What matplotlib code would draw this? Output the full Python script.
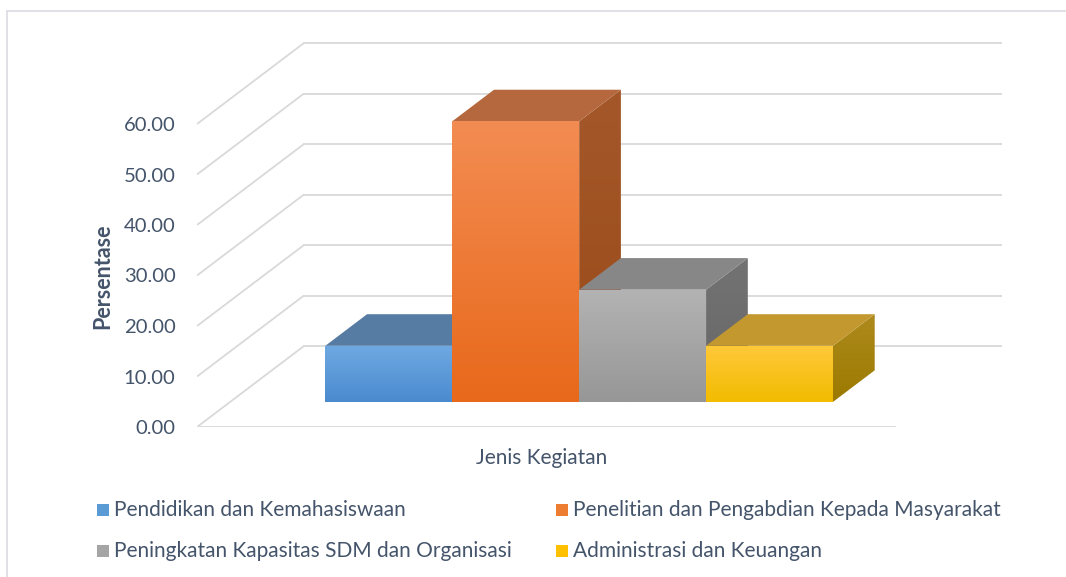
import numpy as np
import matplotlib
matplotlib.use("Agg")
import matplotlib.pyplot as plt
from matplotlib.patches import Polygon, Rectangle
from matplotlib.colors import to_rgb

categories = ["Pendidikan dan Kemahasiswaan",
              "Penelitian dan Pengabdian Kepada Masyarakat",
              "Peningkatan Kapasitas SDM dan Organisasi",
              "Administrasi dan Keuangan"]
values = [11.11, 55.56, 22.22, 11.11]
yticks = [0, 10, 20, 30, 40, 50, 60]
x_title = "Jenis Kegiatan"
y_title = "Persentase"

# face colours: front top, front bottom, top face, side top, side bottom
colors = [
    ("#6fa9e2", "#4a8bd0", "#567ca3", "#4d6f93", "#3f5f80"),
    ("#f38c52", "#e8691b", "#b5683d", "#a4582a", "#9a4a18"),
    ("#b3b3b3", "#979797", "#878787", "#737373", "#666666"),
    ("#ffc83a", "#f2bc00", "#c3992f", "#ad8a1c", "#9c7a00"),
]
legend_marker = ["#5b9bd5", "#ed7d31", "#a5a5a5", "#ffc000"]

text_col = "#44546a"
grid_col = "#d9d9d9"
font = "Lato"

W, H = 1066, 577
fig = plt.figure(figsize=(W / 100, H / 100), dpi=100)

# plot region: front plane from x=197..895 px, value 0 at y=427, 5.05 px per unit
px_x = 698.0
px_y = 5.05
ax = fig.add_axes([197 / W, (H - 427) / H, 805 / W, 385 / H])
ax.patch.set_alpha(0)
for s in ax.spines.values():
    s.set_visible(False)

# depth vector of the floor (oblique projection)
Dx = 107 / px_x
Dy = 81 / px_y

# walls / gridlines
for v in yticks:
    ax.plot([0, Dx], [v, v + Dy], color=grid_col, lw=1.3, zorder=1, solid_capstyle="butt")
    ax.plot([Dx, 1 + Dx], [v + Dy, v + Dy], color=grid_col, lw=1.3, zorder=1)
ax.plot([0, 1], [0, 0], color=grid_col, lw=1.3, zorder=1)


def grad_face(verts, c_top, c_bot, z):
    poly = Polygon(verts, closed=True, facecolor="none", edgecolor="none", zorder=z)
    ax.add_patch(poly)
    xs = [p[0] for p in verts]
    ys = [p[1] for p in verts]
    t = np.linspace(0, 1, 64)[:, None]
    a, b = np.array(to_rgb(c_top)), np.array(to_rgb(c_bot))
    img = (a * (1 - t) + b * t)[:, None, :]
    im = ax.imshow(img, extent=(min(xs), max(xs), min(ys), max(ys)), aspect="auto",
                   origin="upper", interpolation="bilinear", zorder=z)
    im.set_clip_path(poly)


n = len(values)
gap = 1.5
bw = 1.0 / (n + gap)
left0 = gap * bw / 2
d0, d1 = 0.31, 0.70

for i, v in enumerate(values):
    ft, fb, tc, st, sb = colors[i]
    x0 = left0 + i * bw + d0 * Dx
    x1 = x0 + bw
    y0 = d0 * Dy
    y1 = v + d0 * Dy
    ddx = (d1 - d0) * Dx
    ddy = (d1 - d0) * Dy
    z = 10 + 3 * i
    # side
    grad_face([(x1, y0), (x1 + ddx, y0 + ddy), (x1 + ddx, y1 + ddy), (x1, y1)], st, sb, z)
    # top
    ax.add_patch(Polygon([(x0, y1), (x1, y1), (x1 + ddx, y1 + ddy), (x0 + ddx, y1 + ddy)],
                         closed=True, facecolor=tc, edgecolor="none", zorder=z + 1))
    # front
    grad_face([(x0, y0), (x1, y0), (x1, y1), (x0, y1)], ft, fb, z + 2)

ax.set_xlim(0, 805 / px_x)
ax.set_ylim(0, 385 / px_y)
ax.set_xticks([])
ax.set_yticks(yticks)
ax.set_yticklabels(["%.2f" % t for t in yticks])
ax.tick_params(axis="y", length=0, pad=15.5, labelsize=14.6, labelcolor=text_col)
for lab in ax.get_yticklabels():
    lab.set_fontfamily(font)

fig.text(103 / W, 1 - 276 / H, y_title, rotation=90, ha="center", va="center",
         fontsize=15.5, fontweight="bold", color=text_col, family=font)
fig.text(542 / W, 1 - 458 / H, x_title, ha="center", va="center",
         fontsize=15, color=text_col, family=font)

# legend
leg_pos = [(97, 510), (556, 510), (97, 551), (556, 551)]
for (lx, ly), name, mc in zip(leg_pos, categories, legend_marker):
    fig.patches.append(Rectangle((lx / W, 1 - (ly + 6) / H), 12 / W, 12 / H,
                                 transform=fig.transFigure, facecolor=mc, edgecolor="none"))
    fig.text((lx + 17) / W, 1 - ly / H, name, ha="left", va="center",
             fontsize=15, color=text_col, family=font)

# outer chart border
fig.patches.append(Rectangle((7 / W, -0.1), 1.2, (H - 11) / H + 0.1, transform=fig.transFigure,
                             fill=False, edgecolor="#d9dce3", lw=1.2))

fig.savefig("out.png", dpi=100)
